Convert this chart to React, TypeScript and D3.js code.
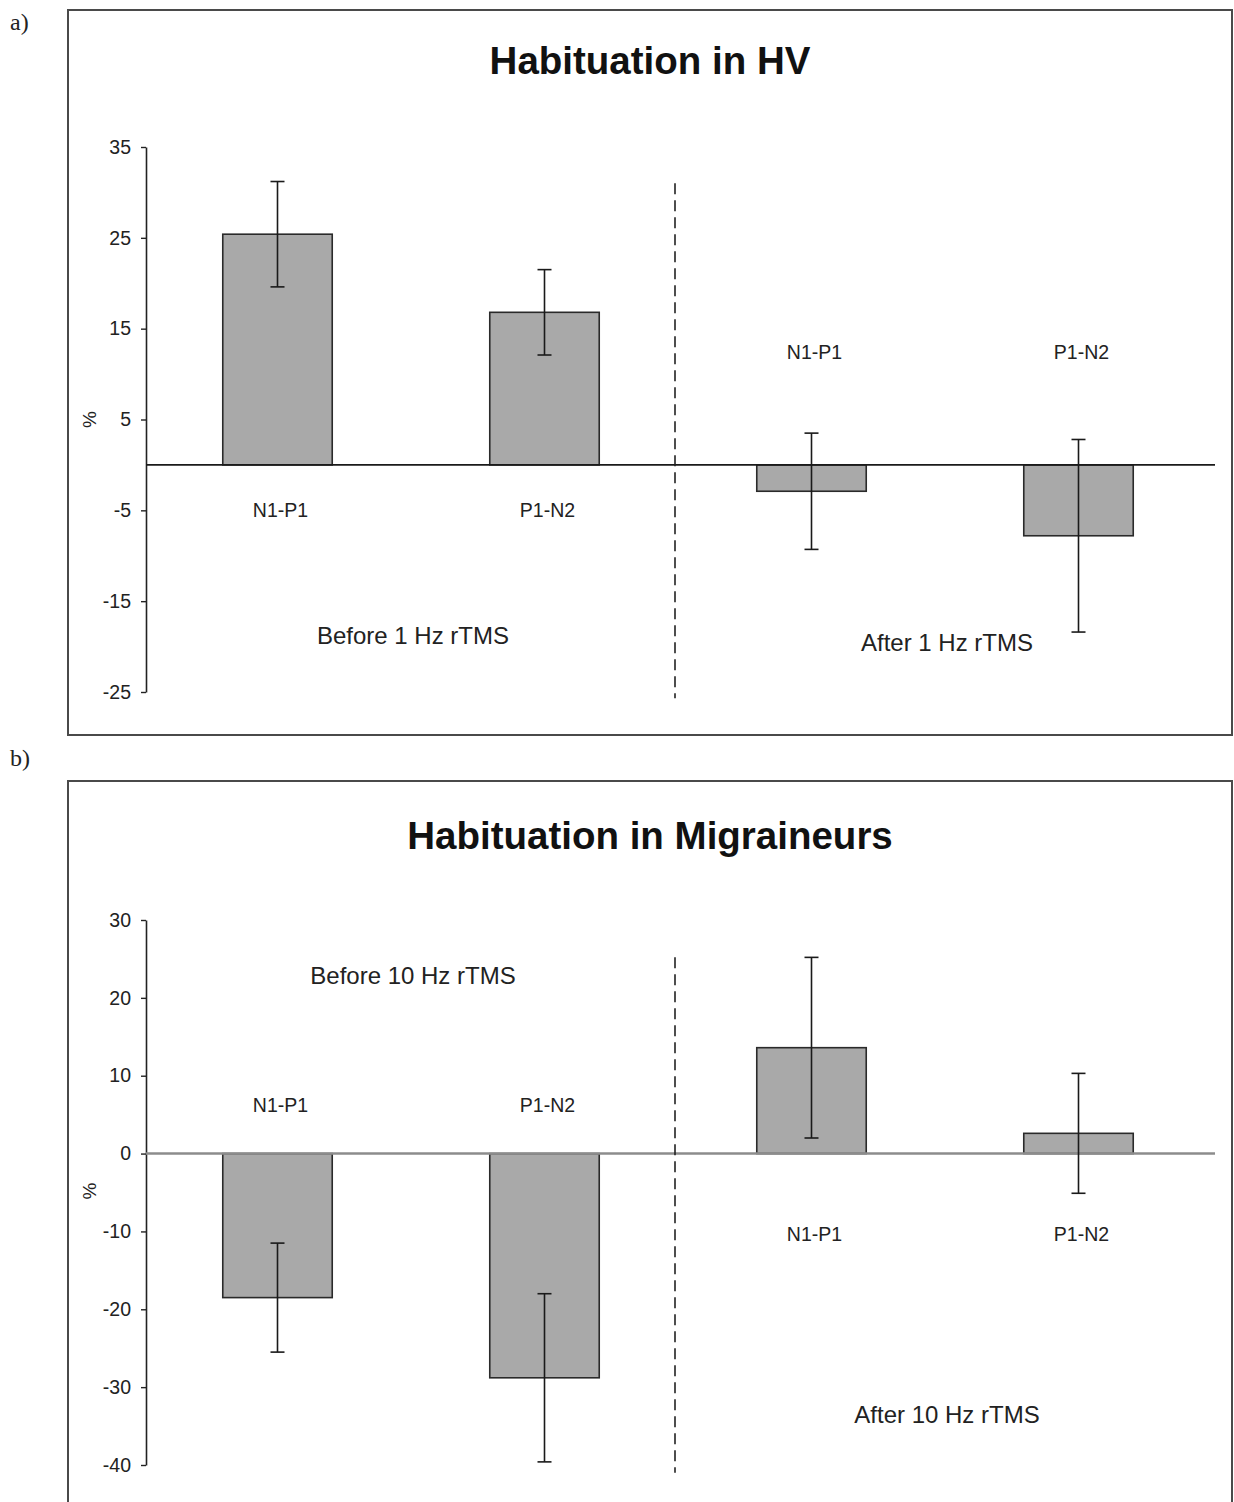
import React, { useEffect, useRef } from 'react';
import * as d3 from 'd3';

// categories (same four components in both panels)
const components = ['N1-P1', 'P1-N2', 'N1-P1', 'P1-N2'];

// a) healthy volunteers, 1 Hz rTMS
const hvMeans = [25.4, 16.8, -2.9, -7.8];
const hvErrors = [5.8, 4.7, 6.4, 10.6];
const hvTicks = [35, 25, 15, 5, -5, -15, -25];

// b) migraineurs, 10 Hz rTMS
const migMeans = [-18.5, -28.8, 13.6, 2.6];
const migErrors = [7.0, 10.8, 11.6, 7.7];
const migTicks = [30, 20, 10, 0, -10, -20, -30, -40];

const FONT = '"Liberation Sans", Arial, sans-serif';

const App = () => {
  const chartRef = useRef<SVGSVGElement>(null);

  useEffect(() => {
    const svg = d3.select(chartRef.current);
    svg.selectAll('*').remove();

    const axisX = 146;
    const x = d3.scaleBand<number>()
      .domain(d3.range(components.length))
      .range([144, 1212])
      .paddingInner(0.59)
      .paddingOuter(0.295);

    const panels = [
      {
        tag: 'a)', tagY: 30, frameTop: 10, frameBottom: 735,
        title: 'Habituation in HV', titleY: 74,
        means: hvMeans, errors: hvErrors, ticks: hvTicks,
        domain: [-25, 35], range: [692, 147],
        zeroColor: '#1a1a1a', zeroWidth: 1.6,
        labelPos: -5, labelNeg: 12.4,
        dash: [31, -25.7],
        before: 'Before 1 Hz rTMS', beforeY: -18.8,
        after: 'After 1 Hz rTMS', afterY: -19.5,
        pctY: 5,
      },
      {
        tag: 'b)', tagY: 766, frameTop: 781, frameBottom: 1540,
        title: 'Habituation in Migraineurs', titleY: 849,
        means: migMeans, errors: migErrors, ticks: migTicks,
        domain: [-40, 30], range: [1465, 920],
        zeroColor: '#8c8c8c', zeroWidth: 2.4,
        labelPos: -10.3, labelNeg: 6.3,
        dash: [25.2, -41],
        before: 'Before 10 Hz rTMS', beforeY: 22.9,
        after: 'After 10 Hz rTMS', afterY: -33.5,
        pctY: -4.8,
      },
    ];

    panels.forEach(p => {
      const y = d3.scaleLinear().domain(p.domain).range(p.range);
      const g = svg.append('g');

      // panel tag
      g.append('text')
        .attr('x', 10)
        .attr('y', p.tagY)
        .attr('font-family', '"Liberation Serif", "Times New Roman", serif')
        .attr('font-size', 24)
        .attr('fill', '#222')
        .text(p.tag);

      // frame
      g.append('rect')
        .attr('x', 68)
        .attr('y', p.frameTop)
        .attr('width', 1164)
        .attr('height', p.frameBottom - p.frameTop)
        .attr('fill', 'none')
        .attr('stroke', '#4a4a4a')
        .attr('stroke-width', 2);

      // title
      g.append('text')
        .attr('x', 650)
        .attr('y', p.titleY)
        .attr('text-anchor', 'middle')
        .attr('font-family', FONT)
        .attr('font-weight', 'bold')
        .attr('font-size', 38.5)
        .attr('fill', '#111')
        .text(p.title);

      // y axis
      const axis = g.append('g')
        .attr('transform', `translate(${axisX},0)`)
        .call(d3.axisLeft(y)
          .tickValues(p.ticks)
          .tickFormat(d => String(d))
          .tickSize(5)
          .tickSizeOuter(0)
          .tickPadding(10));
      axis.select('.domain').attr('stroke', '#222').attr('stroke-width', 1.6);
      axis.selectAll('.tick line').attr('stroke', '#222').attr('stroke-width', 1.4);
      axis.selectAll('.tick text')
        .attr('font-family', FONT)
        .attr('font-size', 19.5)
        .attr('fill', '#222');

      // y label
      g.append('text')
        .attr('transform', `translate(96,${y(p.pctY)}) rotate(-90)`)
        .attr('text-anchor', 'middle')
        .attr('font-family', FONT)
        .attr('font-size', 19)
        .attr('fill', '#222')
        .text('%');

      // bars
      g.selectAll('.bar')
        .data(p.means)
        .enter()
        .append('rect')
        .attr('class', 'bar')
        .attr('x', (d, i) => x(i)!)
        .attr('width', x.bandwidth())
        .attr('y', d => y(Math.max(0, d)))
        .attr('height', d => Math.abs(y(d) - y(0)))
        .attr('fill', '#a9a9a9')
        .attr('stroke', '#2a2a2a')
        .attr('stroke-width', 1.6);

      // zero line
      g.append('line')
        .attr('x1', axisX)
        .attr('x2', 1215)
        .attr('y1', y(0))
        .attr('y2', y(0))
        .attr('stroke', p.zeroColor)
        .attr('stroke-width', p.zeroWidth);

      // error bars
      const err = g.selectAll('.err')
        .data(p.means)
        .enter()
        .append('g')
        .attr('class', 'err')
        .attr('stroke', '#1a1a1a')
        .attr('stroke-width', 1.6);
      const cx = (i: number) => x(i)! + x.bandwidth() / 2;
      err.append('line')
        .attr('x1', (d, i) => cx(i))
        .attr('x2', (d, i) => cx(i))
        .attr('y1', (d, i) => y(d + p.errors[i]))
        .attr('y2', (d, i) => y(d - p.errors[i]));
      err.append('line')
        .attr('x1', (d, i) => cx(i) - 7)
        .attr('x2', (d, i) => cx(i) + 7)
        .attr('y1', (d, i) => y(d + p.errors[i]))
        .attr('y2', (d, i) => y(d + p.errors[i]));
      err.append('line')
        .attr('x1', (d, i) => cx(i) - 7)
        .attr('x2', (d, i) => cx(i) + 7)
        .attr('y1', (d, i) => y(d - p.errors[i]))
        .attr('y2', (d, i) => y(d - p.errors[i]));

      // category labels, placed on the side opposite the bar
      g.selectAll('.cat')
        .data(p.means)
        .enter()
        .append('text')
        .attr('class', 'cat')
        .attr('x', (d, i) => cx(i) + 3)
        .attr('y', d => y(d >= 0 ? p.labelPos : p.labelNeg))
        .attr('dominant-baseline', 'central')
        .attr('text-anchor', 'middle')
        .attr('font-family', FONT)
        .attr('font-size', 19.5)
        .attr('fill', '#222')
        .text((d, i) => components[i]);

      // divider between before / after
      const divX = (x(1)! + x.bandwidth() + x(2)!) / 2 - 3;
      g.append('line')
        .attr('x1', divX)
        .attr('x2', divX)
        .attr('y1', y(p.dash[0]))
        .attr('y2', y(p.dash[1]))
        .attr('stroke', '#222')
        .attr('stroke-width', 1.6)
        .attr('stroke-dasharray', '11,6');

      // condition labels
      const sections = [
        { text: p.before, v: p.beforeY, a: 0, b: 1 },
        { text: p.after, v: p.afterY, a: 2, b: 3 },
      ];
      g.selectAll('.sec')
        .data(sections)
        .enter()
        .append('text')
        .attr('class', 'sec')
        .attr('x', d => (cx(d.a) + cx(d.b)) / 2 + 2)
        .attr('y', d => y(d.v))
        .attr('dominant-baseline', 'central')
        .attr('text-anchor', 'middle')
        .attr('font-family', FONT)
        .attr('font-size', 24)
        .attr('fill', '#222')
        .text(d => d.text);
    });
  }, []);

  return (
    <svg
      ref={chartRef}
      width={1234}
      height={1502}
      style={{ position: 'absolute', left: 0, top: 0, background: '#fff' }}
    />
  );
};

export default App;
